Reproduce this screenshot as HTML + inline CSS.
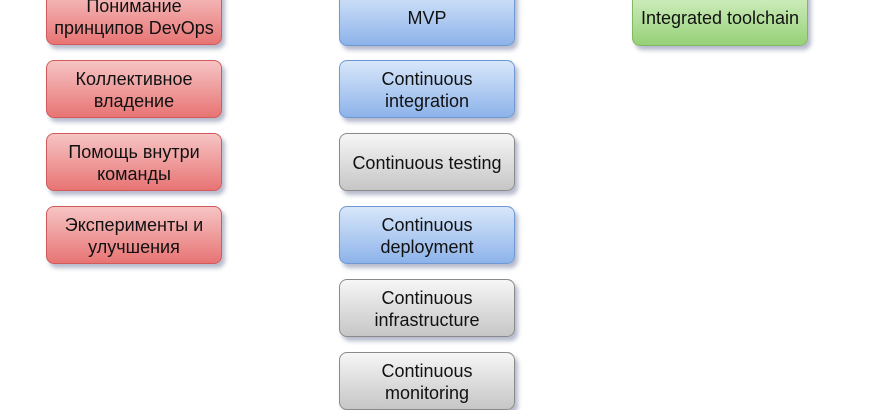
<!DOCTYPE html>
<html><head><meta charset="utf-8"><style>
body{margin:0;width:870px;height:400px;background:#fff;position:relative;overflow:hidden;font-family:"Liberation Sans",sans-serif;}
.b{position:absolute;width:174px;height:56px;border-radius:8px;display:flex;align-items:center;justify-content:center;text-align:center;font-size:18px;line-height:22px;color:#111;box-shadow:3px 4px 4px rgba(90,100,140,0.45);padding-top:2px;box-sizing:content-box;height:54px;}
.r{background:linear-gradient(#f6c4c4,#e87474);border:1px solid #d15a5a;}
.u{background:linear-gradient(#d8e7fa,#8db3ea);border:1px solid #6d98d4;}
.g{background:linear-gradient(#f6f6f6,#c6c6c6);border:1px solid #8a8a8a;}
.n{background:linear-gradient(#d8f1c8,#96d177);border:1px solid #80b864;}
</style></head><body>
<div class="b r" style="left:46px;top:-13px">Понимание<br>принципов DevOps</div>
<div class="b r" style="left:46px;top:60px">Коллективное<br>владение</div>
<div class="b r" style="left:46px;top:133px">Помощь внутри<br>команды</div>
<div class="b r" style="left:46px;top:206px">Эксперименты и<br>улучшения</div>
<div class="b u" style="left:339px;top:-12px">MVP</div>
<div class="b u" style="left:339px;top:60px">Continuous<br>integration</div>
<div class="b g" style="left:339px;top:133px">Continuous testing</div>
<div class="b u" style="left:339px;top:206px">Continuous<br>deployment</div>
<div class="b g" style="left:339px;top:279px">Continuous<br>infrastructure</div>
<div class="b g" style="left:339px;top:352px">Continuous<br>monitoring</div>
<div class="b n" style="left:632px;top:-12px">Integrated toolchain</div>
</body></html>
